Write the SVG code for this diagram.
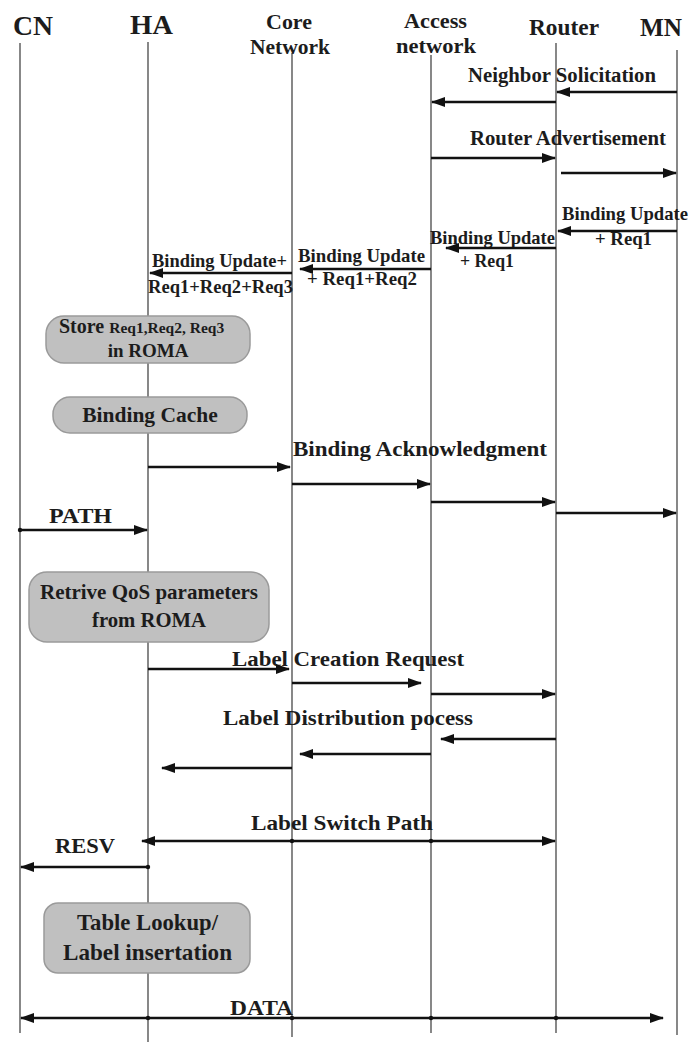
<svg xmlns="http://www.w3.org/2000/svg" width="700" height="1042" viewBox="0 0 700 1042">
<defs>
<style>
text{font-family:"Liberation Serif","Times New Roman",serif;font-weight:bold;fill:#1c1c1c}
.life{stroke:#6a6a6a;stroke-width:1.6;fill:none}
.msg{stroke:#111;stroke-width:2.6;fill:none;marker-end:url(#ah)}
.dbl{stroke:#111;stroke-width:2.6;fill:none;marker-end:url(#ah);marker-start:url(#ah)}
.box{fill:#c0c0c0;stroke:#9a9a9a;stroke-width:1.5}
.hd{font-size:22px}
.m{font-size:20.5px}
.bu{font-size:19px}
.l{font-size:22px}
.dot{fill:#111}
</style>
<marker id="ah" viewBox="0 0 14 10" refX="13" refY="5" markerWidth="14" markerHeight="10" markerUnits="userSpaceOnUse" orient="auto-start-reverse">
<path d="M0,0 L14,5 L0,10 z" fill="#111"/>
</marker>
</defs>
<rect width="700" height="1042" fill="#fff"/>

<g id="CN">
<line class="life" x1="20" y1="43" x2="20" y2="1033"/>
<text x="13" y="35" font-size="28" textLength="40" lengthAdjust="spacingAndGlyphs">CN</text>
</g>
<g id="HA">
<line class="life" x1="148" y1="42" x2="148" y2="1042"/>
<text x="130" y="34" font-size="28" textLength="43" lengthAdjust="spacingAndGlyphs">HA</text>
</g>
<g id="CoreNetwork">
<line class="life" x1="292" y1="53" x2="292" y2="1037"/>
<text class="hd" x="266" y="29" textLength="46" lengthAdjust="spacingAndGlyphs">Core</text>
<text class="hd" x="250" y="54" textLength="80" lengthAdjust="spacingAndGlyphs">Network</text>
</g>
<g id="AccessNetwork">
<line class="life" x1="431" y1="55" x2="431" y2="1033"/>
<text class="hd" x="404" y="28" textLength="63" lengthAdjust="spacingAndGlyphs">Access</text>
<text class="hd" x="396" y="53" textLength="80" lengthAdjust="spacingAndGlyphs">network</text>
</g>
<g id="Router">
<line class="life" x1="556" y1="43" x2="556" y2="1033"/>
<text x="529" y="35" font-size="24" textLength="70" lengthAdjust="spacingAndGlyphs">Router</text>
</g>
<g id="MN">
<line class="life" x1="677" y1="50" x2="677" y2="1035"/>
<text x="640" y="36" font-size="26" textLength="42" lengthAdjust="spacingAndGlyphs">MN</text>
</g>

<g id="StoreROMA">
<rect class="box" x="46" y="316" width="204" height="47" rx="18"/>
<text x="59" y="333" font-size="20">Store <tspan font-size="15.5">Req1,Req2, Req3</tspan></text>
<text x="148" y="357" font-size="19" text-anchor="middle">in ROMA</text>
</g>
<g id="BindingCache">
<rect class="box" x="53" y="397" width="194" height="36" rx="17"/>
<text x="150" y="422" font-size="21.5" text-anchor="middle">Binding Cache</text>
</g>
<g id="RetriveQoS">
<rect class="box" x="29" y="572" width="240" height="70" rx="18"/>
<text x="40" y="599" font-size="21" textLength="218" lengthAdjust="spacingAndGlyphs">Retrive QoS parameters</text>
<text x="92" y="627" font-size="21" textLength="114" lengthAdjust="spacingAndGlyphs">from ROMA</text>
</g>
<g id="TableLookup">
<rect class="box" x="44" y="903" width="206" height="70" rx="14"/>
<text x="77" y="930" font-size="23" textLength="141" lengthAdjust="spacingAndGlyphs">Table Lookup/</text>
<text x="63" y="960" font-size="23" textLength="169" lengthAdjust="spacingAndGlyphs">Label insertation</text>
</g>

<g id="connectors">
<text class="m" x="468" y="82" textLength="188" lengthAdjust="spacingAndGlyphs">Neighbor Solicitation</text>
<line class="msg" x1="677" y1="92" x2="557" y2="92"/>
<line class="msg" x1="556" y1="102" x2="432" y2="102"/>

<text class="m" x="470" y="145" textLength="196" lengthAdjust="spacingAndGlyphs">Router Advertisement</text>
<line class="msg" x1="431" y1="158" x2="555" y2="158"/>
<line class="msg" x1="561" y1="173" x2="676" y2="173"/>

<text class="bu" x="562" y="220" textLength="126" lengthAdjust="spacingAndGlyphs">Binding Update</text>
<text class="bu" x="595" y="245" textLength="57" lengthAdjust="spacingAndGlyphs">+ Req1</text>
<line class="msg" x1="677" y1="231" x2="558" y2="231"/>

<text class="bu" x="430" y="244" textLength="125" lengthAdjust="spacingAndGlyphs">Binding Update</text>
<text class="bu" x="460" y="267" textLength="54" lengthAdjust="spacingAndGlyphs">+ Req1</text>
<line class="msg" x1="556" y1="248" x2="446" y2="248"/>

<text class="bu" x="298" y="262" textLength="127" lengthAdjust="spacingAndGlyphs">Binding Update</text>
<text class="bu" x="307" y="285" textLength="110" lengthAdjust="spacingAndGlyphs">+ Req1+Req2</text>
<line class="msg" x1="431" y1="269" x2="300" y2="269"/>

<text class="bu" x="152" y="267" textLength="135" lengthAdjust="spacingAndGlyphs">Binding Update+</text>
<text class="bu" x="148" y="293" textLength="145" lengthAdjust="spacingAndGlyphs">Req1+Req2+Req3</text>
<line class="msg" x1="292" y1="273" x2="150" y2="273"/>

<text class="l" x="293" y="456" textLength="254" lengthAdjust="spacingAndGlyphs">Binding Acknowledgment</text>
<line class="msg" x1="148" y1="467" x2="290" y2="467"/>
<line class="msg" x1="292" y1="484" x2="430" y2="484"/>
<line class="msg" x1="431" y1="502" x2="555" y2="502"/>
<line class="msg" x1="556" y1="513" x2="676" y2="513"/>

<text class="l" x="49" y="523" textLength="63" lengthAdjust="spacingAndGlyphs">PATH</text>
<line class="msg" x1="20" y1="530" x2="147" y2="530"/>
<circle class="dot" cx="20" cy="530" r="2.2"/>

<text class="l" x="232" y="666" textLength="232" lengthAdjust="spacingAndGlyphs">Label Creation Request</text>
<line class="msg" x1="148" y1="669" x2="289" y2="669"/>
<line class="msg" x1="292" y1="683" x2="421" y2="683"/>
<line class="msg" x1="431" y1="694" x2="555" y2="694"/>

<text class="l" x="223" y="725" textLength="250" lengthAdjust="spacingAndGlyphs">Label Distribution pocess</text>
<line class="msg" x1="556" y1="739" x2="441" y2="739"/>
<line class="msg" x1="431" y1="754" x2="300" y2="754"/>
<line class="msg" x1="292" y1="768" x2="162" y2="768"/>

<text class="l" x="251" y="830" textLength="182" lengthAdjust="spacingAndGlyphs">Label Switch Path</text>
<line class="dbl" x1="142" y1="841" x2="555" y2="841"/>
<circle class="dot" cx="292" cy="841" r="2.2"/>
<circle class="dot" cx="431" cy="841" r="2.2"/>

<text class="l" x="55" y="853" textLength="60" lengthAdjust="spacingAndGlyphs">RESV</text>
<line class="msg" x1="148" y1="867" x2="21" y2="867"/>
<circle class="dot" cx="148" cy="867" r="2.2"/>

<text class="l" x="230" y="1015" textLength="63" lengthAdjust="spacingAndGlyphs">DATA</text>
<line class="dbl" x1="21" y1="1018" x2="663" y2="1018"/>
<circle class="dot" cx="148" cy="1018" r="2.2"/>
<circle class="dot" cx="292" cy="1018" r="2.2"/>
<circle class="dot" cx="431" cy="1018" r="2.2"/>
<circle class="dot" cx="556" cy="1018" r="2.2"/>
</g>
</svg>
